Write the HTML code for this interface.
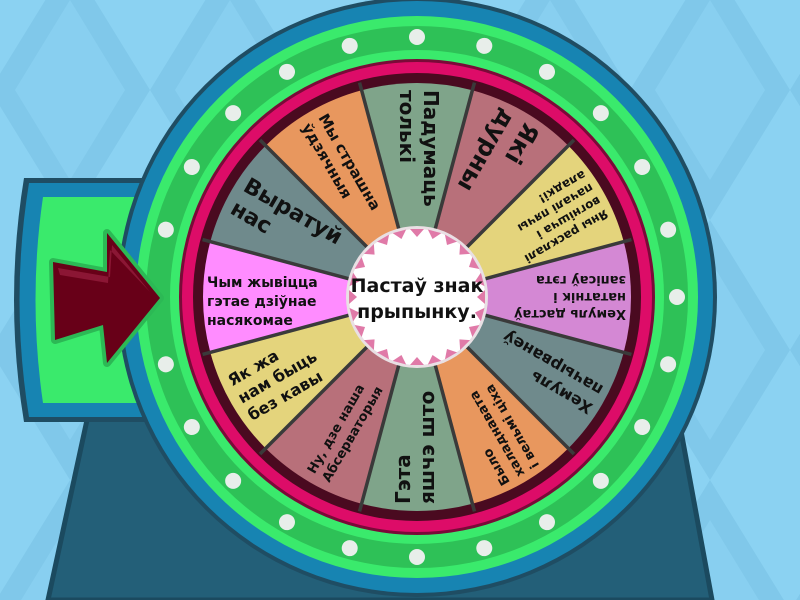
<!DOCTYPE html>
<html><head><meta charset="utf-8"><style>
html,body{margin:0;padding:0;width:800px;height:600px;overflow:hidden;background:#8dd3f2}
svg{display:block}
text{font-family:"DejaVu Sans","Liberation Sans",sans-serif;font-weight:bold;fill:#111}
</style></head><body>
<svg width="800" height="600" viewBox="0 0 800 600" xmlns="http://www.w3.org/2000/svg">
<defs>
<pattern id="bg" width="160" height="260" patternUnits="userSpaceOnUse" x="-10" y="-40">
<rect width="160" height="260" fill="#8bd2f2"/>
<polygon points="80,0 160,130 80,260 0,130" fill="#80c8ea"/>
<polygon points="80,40 135,130 80,220 25,130" fill="#88cff0"/>
</pattern>
<g id="dot"><circle cx="417" cy="37" r="8" fill="#e8eeea"/></g>
<path id="wedge" d="M417,297 L361.6,90.3 A214,214 0 0 1 472.4,90.3 Z"/>
<line id="div" x1="417" y1="228" x2="417" y2="75" stroke="#3a3a3a" stroke-width="3.5"/>
<polygon id="tri" points="410,229 424,229 417,237" fill="#e07aa8"/>
</defs>
<rect width="800" height="600" fill="url(#bg)"/>

<!-- stand -->
<polygon points="100,360 668,360 712,600 48,600" fill="#235f78" stroke="#1b4a5f" stroke-width="5"/>

<!-- left panel -->
<path d="M300,178 L24,178 Q4,300 24,422 L300,422 Z" fill="#1f4d63"/>
<path d="M300,183 L29,183 Q10,300 29,417 L300,417 Z" fill="#1784b2"/>
<path d="M300,197 L43,197 Q28,300 43,403 L300,403 Z" fill="#3aea6c"/>

<!-- wheel rings -->
<circle cx="417" cy="297" r="300" fill="#1f4d63"/>
<circle cx="417" cy="297" r="296" fill="#1784b2"/>
<circle cx="417" cy="297" r="281" fill="#3aea6c"/>
<circle cx="417" cy="297" r="271" fill="#2ec157"/>
<circle cx="417" cy="297" r="247" fill="#3aea6c"/>
<circle cx="417" cy="297" r="238" fill="#7a0a38"/>
<circle cx="417" cy="297" r="235" fill="#dd0c68"/>
<circle cx="417" cy="297" r="224" fill="#4a0a20"/>

<!-- dots -->
<use href="#dot" transform="rotate(0 417 297)"/><use href="#dot" transform="rotate(15 417 297)"/>
<use href="#dot" transform="rotate(30 417 297)"/><use href="#dot" transform="rotate(45 417 297)"/>
<use href="#dot" transform="rotate(60 417 297)"/><use href="#dot" transform="rotate(75 417 297)"/>
<use href="#dot" transform="rotate(90 417 297)"/><use href="#dot" transform="rotate(105 417 297)"/>
<use href="#dot" transform="rotate(120 417 297)"/><use href="#dot" transform="rotate(135 417 297)"/>
<use href="#dot" transform="rotate(150 417 297)"/><use href="#dot" transform="rotate(165 417 297)"/>
<use href="#dot" transform="rotate(180 417 297)"/><use href="#dot" transform="rotate(195 417 297)"/>
<use href="#dot" transform="rotate(210 417 297)"/><use href="#dot" transform="rotate(225 417 297)"/>
<use href="#dot" transform="rotate(240 417 297)"/><use href="#dot" transform="rotate(255 417 297)"/>
<use href="#dot" transform="rotate(285 417 297)"/><use href="#dot" transform="rotate(300 417 297)"/>
<use href="#dot" transform="rotate(315 417 297)"/><use href="#dot" transform="rotate(330 417 297)"/>
<use href="#dot" transform="rotate(345 417 297)"/>

<!-- arrow -->
<polygon points="53,262 107,272 107,233 160,298 107,363 103,325 55,340" fill="#6a0a20" stroke="#2cb955" stroke-width="8" stroke-linejoin="round"/>
<polygon points="53,262 107,272 107,233 160,298 107,363 103,325 55,340" fill="#680018"/>
<polygon points="58,268 110,277 112,245 150,292 110,250 108,283 60,275" fill="#9a2040" opacity="0.7"/>

<!-- segments -->
<use href="#wedge" fill="#7fa48a" transform="rotate(0 417 297)"/>
<use href="#wedge" fill="#b8707a" transform="rotate(30 417 297)"/>
<use href="#wedge" fill="#e4d47c" transform="rotate(60 417 297)"/>
<use href="#wedge" fill="#d488d4" transform="rotate(90 417 297)"/>
<use href="#wedge" fill="#6f8a8c" transform="rotate(120 417 297)"/>
<use href="#wedge" fill="#e8975e" transform="rotate(150 417 297)"/>
<use href="#wedge" fill="#7fa48a" transform="rotate(180 417 297)"/>
<use href="#wedge" fill="#b8707a" transform="rotate(210 417 297)"/>
<use href="#wedge" fill="#e4d47c" transform="rotate(240 417 297)"/>
<use href="#wedge" fill="#ff8cff" transform="rotate(270 417 297)"/>
<use href="#wedge" fill="#6f8a8c" transform="rotate(300 417 297)"/>
<use href="#wedge" fill="#e8975e" transform="rotate(330 417 297)"/>

<!-- dividers -->
<use href="#div" transform="rotate(15 417 297)"/><use href="#div" transform="rotate(45 417 297)"/>
<use href="#div" transform="rotate(75 417 297)"/><use href="#div" transform="rotate(105 417 297)"/>
<use href="#div" transform="rotate(135 417 297)"/><use href="#div" transform="rotate(165 417 297)"/>
<use href="#div" transform="rotate(195 417 297)"/><use href="#div" transform="rotate(225 417 297)"/>
<use href="#div" transform="rotate(255 417 297)"/><use href="#div" transform="rotate(285 417 297)"/>
<use href="#div" transform="rotate(315 417 297)"/><use href="#div" transform="rotate(345 417 297)"/>

<!-- labels -->
<g transform="rotate(90 417 297)"><text font-size="20"><tspan x="210" y="290">Падумаць</tspan><tspan x="210" y="314">толькі</tspan></text></g>
<g transform="rotate(120 417 297)"><text font-size="24"><tspan x="210" y="291">Які</tspan><tspan x="210" y="318">дурны</tspan></text></g>
<g transform="rotate(150 417 297)"><text font-size="12"><tspan x="210" y="279">Яны расклалі</tspan><tspan x="210" y="294">вогнішча і</tspan><tspan x="210" y="309">пачалі пячы</tspan><tspan x="210" y="324">аладкі!</tspan></text></g>
<g transform="rotate(180 417 297)"><text font-size="13"><tspan x="208" y="284">Хемуль дастаў</tspan><tspan x="208" y="301">нататнік і</tspan><tspan x="208" y="318">запісаў гэта</tspan></text></g>
<g transform="rotate(210 417 297)"><text font-size="16"><tspan x="210" y="292">Хемуль</tspan><tspan x="210" y="313">пачырванеў</tspan></text></g>
<g transform="rotate(240 417 297)"><text font-size="13"><tspan x="210" y="285">Было</tspan><tspan x="210" y="302">халаднавата</tspan><tspan x="210" y="319">і вельмі ціха</tspan></text></g>
<g transform="rotate(270 417 297)"><text font-size="20"><tspan x="210" y="290">Гэта</tspan><tspan x="210" y="314">яшчэ што</tspan></text></g>
<g transform="rotate(300 417 297)"><text font-size="13"><tspan x="212" y="297">Ну, дзе наша</tspan><tspan x="212" y="314">Абсерваторыя</tspan></text></g>
<g transform="rotate(330 417 297)"><text font-size="16"><tspan x="212" y="282">Як жа</tspan><tspan x="212" y="302">нам быць</tspan><tspan x="212" y="322">без кавы</tspan></text></g>
<g><text font-size="14"><tspan x="207" y="287">Чым жывіцца</tspan><tspan x="207" y="306">гэтае дзіўнае</tspan><tspan x="207" y="325">насякомае</tspan></text></g>
<g transform="rotate(30 417 297)"><text font-size="22"><tspan x="212" y="292">Выратуй</tspan><tspan x="212" y="318">нас</tspan></text></g>
<g transform="rotate(60 417 297)"><text font-size="15"><tspan x="212" y="293">Мы страшна</tspan><tspan x="212" y="312">ўдзячныя</tspan></text></g>

<!-- center -->
<circle cx="417" cy="297" r="71" fill="#e9e0e4"/>
<circle cx="417" cy="297" r="68" fill="#ffffff"/>
<use href="#tri" transform="rotate(0 417 297)"/><use href="#tri" transform="rotate(15 417 297)"/>
<use href="#tri" transform="rotate(30 417 297)"/><use href="#tri" transform="rotate(45 417 297)"/>
<use href="#tri" transform="rotate(60 417 297)"/><use href="#tri" transform="rotate(75 417 297)"/>
<use href="#tri" transform="rotate(90 417 297)"/><use href="#tri" transform="rotate(105 417 297)"/>
<use href="#tri" transform="rotate(120 417 297)"/><use href="#tri" transform="rotate(135 417 297)"/>
<use href="#tri" transform="rotate(150 417 297)"/><use href="#tri" transform="rotate(165 417 297)"/>
<use href="#tri" transform="rotate(180 417 297)"/><use href="#tri" transform="rotate(195 417 297)"/>
<use href="#tri" transform="rotate(210 417 297)"/><use href="#tri" transform="rotate(225 417 297)"/>
<use href="#tri" transform="rotate(240 417 297)"/><use href="#tri" transform="rotate(255 417 297)"/>
<use href="#tri" transform="rotate(270 417 297)"/><use href="#tri" transform="rotate(285 417 297)"/>
<use href="#tri" transform="rotate(300 417 297)"/><use href="#tri" transform="rotate(315 417 297)"/>
<use href="#tri" transform="rotate(330 417 297)"/><use href="#tri" transform="rotate(345 417 297)"/>
<text x="417" y="292" font-size="19" text-anchor="middle">Пастаў знак</text>
<text x="417" y="318" font-size="19" text-anchor="middle">прыпынку.</text>
</svg>
</body></html>
